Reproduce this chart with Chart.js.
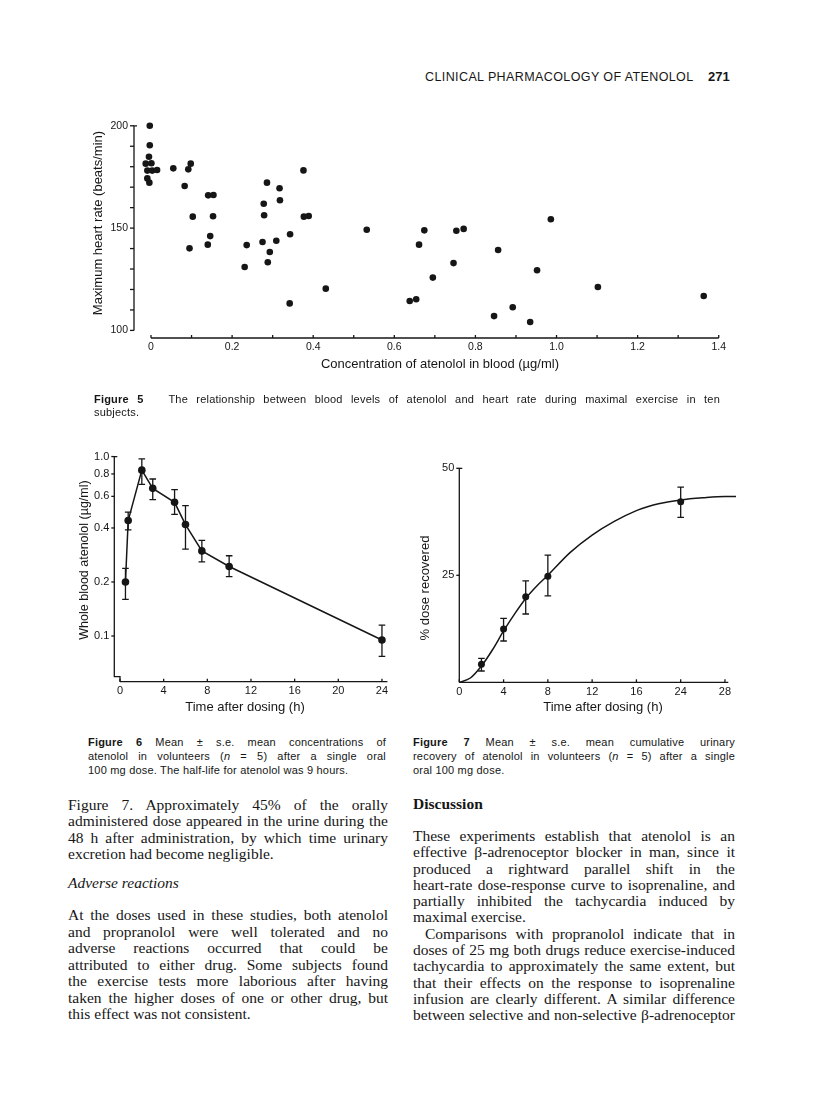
<!DOCTYPE html>
<html>
<head>
<meta charset="utf-8">
<script src="https://cdn.jsdelivr.net/npm/chart.js@4.4.1/dist/chart.umd.min.js"></script>
<style>
  body { margin: 0; background: #fff; }
  #page { position: relative; width: 816px; height: 1111px; overflow: hidden; color: #161616; }
  canvas { position: absolute; }
  .t { position: absolute; white-space: nowrap; text-align: center; height: 16px; line-height: 16px; }
  .r { transform: rotate(-90deg); }
  .sans { font-family: "Liberation Sans", Arial, sans-serif; }
  .serif { font-family: "Liberation Serif", "Times New Roman", serif; }
  .blk { position: absolute; }
  .cap { font-size: 11px; letter-spacing: 0.2px; }
  .body { font-size: 15.5px; }
  .j { text-align: justify; text-align-last: justify; }
  .body .j { word-spacing: -1.5px; }
  .n { white-space: nowrap; }
</style>
</head>
<body>
<div id="page">

  <div class="blk sans" style="left:425px; top:70px; font-size:12.5px; line-height:14px; letter-spacing:0.4px;">CLINICAL PHARMACOLOGY OF ATENOLOL</div>
  <div class="blk sans" style="left:708px; top:70px; font-size:13px; line-height:14px; font-weight:bold;">271</div>

  <canvas id="fig5" width="720" height="262" style="left:60px; top:100px;"></canvas>
  <canvas id="fig6" width="340" height="262" style="left:60px; top:440px;"></canvas>
  <canvas id="fig7" width="360" height="262" style="left:400px; top:440px;"></canvas>

  <!-- axis titles -->
  <div class="t sans" style="left:240px; top:356px; width:400px; font-size:13px;">Concentration of atenolol in blood (µg/ml)</div>
  <div class="t sans r" style="left:-22px; top:215px; width:240px; font-size:13px;">Maximum heart rate (beats/min)</div>
  <div class="t sans r" style="left:-36px; top:552px; width:240px; font-size:12.5px;">Whole blood atenolol (µg/ml)</div>
  <div class="t sans" style="left:145px; top:699px; width:200px; font-size:13px;">Time after dosing (h)</div>
  <div class="t sans r" style="left:325px; top:580px; width:200px; font-size:13px;">% dose recovered</div>
  <div class="t sans" style="left:503px; top:699px; width:200px; font-size:13px;">Time after dosing (h)</div>

  <!-- captions -->
  <div class="blk sans cap" style="left:94px; top:393px; width:626px; line-height:13px;">
    <div class="j"><b>Figure 5</b>&nbsp;&nbsp; The relationship between blood levels of atenolol and heart rate during maximal exercise in ten</div>
    <div class="n">subjects.</div>
  </div>
  <div class="blk sans cap" style="left:88px; top:735px; width:298px; line-height:14px;">
    <div class="j"><b>Figure 6</b> Mean ± s.e. mean concentrations of</div>
    <div class="j">atenolol in volunteers (<i>n</i> = 5) after a single oral</div>
    <div class="n">100 mg dose. The half-life for atenolol was 9 hours.</div>
  </div>
  <div class="blk sans cap" style="left:413px; top:735px; width:322px; line-height:14px;">
    <div class="j"><b>Figure 7</b> Mean ± s.e. mean cumulative urinary</div>
    <div class="j">recovery of atenolol in volunteers (<i>n</i> = 5) after a single</div>
    <div class="n">oral 100 mg dose.</div>
  </div>

  <!-- body text, left column -->
  <div class="blk serif body" style="left:68px; top:797px; width:320px; line-height:16.4px;">
    <div class="j">Figure 7. Approximately 45% of the orally</div>
    <div class="j">administered dose appeared in the urine during the</div>
    <div class="j">48 h after administration, by which time urinary</div>
    <div class="n">excretion had become negligible.</div>
  </div>
  <div class="blk serif body" style="left:68px; top:875px; line-height:16.4px;"><i>Adverse reactions</i></div>
  <div class="blk serif body" style="left:68px; top:907px; width:320px; line-height:16.5px;">
    <div class="j">At the doses used in these studies, both atenolol</div>
    <div class="j">and propranolol were well tolerated and no</div>
    <div class="j">adverse reactions occurred that could be</div>
    <div class="j">attributed to either drug. Some subjects found</div>
    <div class="j">the exercise tests more laborious after having</div>
    <div class="j">taken the higher doses of one or other drug, but</div>
    <div class="n">this effect was not consistent.</div>
  </div>

  <!-- body text, right column -->
  <div class="blk serif body" style="left:413px; top:796px; line-height:16.4px;"><b>Discussion</b></div>
  <div class="blk serif body" style="left:413px; top:828px; width:322px; line-height:16.3px;">
    <div class="j">These experiments establish that atenolol is an</div>
    <div class="j">effective β-adrenoceptor blocker in man, since it</div>
    <div class="j">produced a rightward parallel shift in the</div>
    <div class="j">heart-rate dose-response curve to isoprenaline, and</div>
    <div class="j">partially inhibited the tachycardia induced by</div>
    <div class="n">maximal exercise.</div>
    <div class="j" style="text-indent:12px;">Comparisons with propranolol indicate that in</div>
    <div class="j">doses of 25 mg both drugs reduce exercise-induced</div>
    <div class="j">tachycardia to approximately the same extent, but</div>
    <div class="j">that their effects on the response to isoprenaline</div>
    <div class="j">infusion are clearly different. A similar difference</div>
    <div class="j">between selective and non-selective β-adrenoceptor</div>
  </div>
</div>

<script>
// ---- Figure 5: blood atenolol (ug/ml) vs maximum heart rate (beats/min)
var fig5Conc = [-0.003, -0.003, -0.005, -0.013, 0.001, -0.009, 0.003, 0.015, -0.009, -0.004,
  0.055, 0.098, 0.092, 0.083, 0.141, 0.154, 0.103, 0.153, 0.146, 0.140,
  0.095, 0.236, 0.231, 0.286, 0.278, 0.279, 0.317, 0.318, 0.275, 0.309,
  0.293, 0.288, 0.343, 0.342, 0.376, 0.377, 0.389, 0.431, 0.532, 0.638,
  0.654, 0.674, 0.661, 0.695, 0.753, 0.771, 0.746, 0.856, 0.846, 0.892,
  0.935, 0.952, 0.986, 1.102, 1.363];
var fig5Rate = [200, 190.5, 184.9, 181.5, 181.7, 178.1, 178.1, 178.4, 174.3, 172.2,
  179.2, 181.5, 178.7, 170.6, 166.0, 166.2, 155.6, 155.8, 146.1, 141.9,
  140.1, 141.7, 131.0, 172.2, 161.9, 156.3, 169.5, 163.6, 143.2, 143.8,
  138.3, 133.3, 147.0, 113.2, 178.2, 155.6, 155.9, 120.4, 149.2, 114.4,
  115.2, 148.9, 141.9, 125.8, 148.7, 149.6, 132.9, 139.3, 107.0, 111.3,
  104.1, 129.4, 154.3, 121.2, 116.8];
var fig5XTicks = [0, 0.1, 0.2, 0.3, 0.4, 0.5, 0.6, 0.7, 0.8, 0.9, 1.0, 1.1, 1.2, 1.3, 1.4];
var fig5XLabels = ['0', '', '0.2', '', '0.4', '', '0.6', '', '0.8', '', '1.0', '', '1.2', '', '1.4'];
var fig5YTicks = [100, 110, 120, 130, 140, 150, 160, 170, 180, 190, 200];
var fig5YLabels = ['100', '', '', '', '', '150', '', '', '', '', '200'];

// ---- Figure 6: whole blood atenolol (ug/ml), mean and +/- s.e.
var fig6Time  = [0.5, 0.75, 2, 3, 5, 6, 7.5, 10, 24];
var fig6Mean  = [0.200, 0.440, 0.840, 0.665, 0.556, 0.418, 0.298, 0.244, 0.095];
var fig6Upper = [0.238, 0.490, 0.970, 0.750, 0.654, 0.533, 0.341, 0.280, 0.115];
var fig6Lower = [0.160, 0.390, 0.700, 0.575, 0.476, 0.305, 0.259, 0.214, 0.077];
var fig6XTicks = [0, 4, 8, 12, 16, 20, 24];
var fig6YTicks = [0.1, 0.2, 0.4, 0.6, 0.8, 1.0];
var fig6YLabels = ['0.1', '0.2', '0.4', '0.6', '0.8', '1.0'];

// ---- Figure 7: cumulative urinary recovery (% dose)
var fig7Time  = [2, 4, 6, 8, 24];
var fig7Mean  = [4.2, 12.45, 20.0, 24.8, 42.2];
var fig7Upper = [5.6, 14.95, 23.7, 29.7, 45.6];
var fig7Lower = [2.64, 9.65, 15.96, 20.2, 38.55];
var fig7CurveTime = [0, 1, 2, 3, 4, 5, 6, 7, 8, 10, 12, 14, 16, 18, 20, 24, 26, 28, 29];
var fig7CurveDose = [0, 1.0, 3.8, 7.6, 12.0, 16.0, 19.6, 22.5, 25.0, 30.3, 34.4, 37.6, 40.1, 41.0, 41.7, 42.6, 43.1, 43.4, 43.4];
var fig7XTicks = [0, 4, 8, 12, 16, 24, 28];
var fig7YTicks = [25, 50];

var INK = '#161616';
var FONT = '"Liberation Sans", Arial, sans-serif';

// the time axis of fig 7 is squeezed between 16 and 24 h (same gap as 4 h)
function fig7Axis(h) {
  if (h <= 16) return h;
  if (h <= 24) return 16 + (h - 16) / 2;
  return h - 4;
}

function pts(xs, ys, fx) {
  return xs.map(function (x, i) { return { x: fx ? fx(x) : x, y: ys[i] }; });
}

// axis lines, tick marks and error bars drawn the way the printed figure has them
var paperAxes = {
  id: 'paperAxes',
  afterDatasetsDraw: function (chart, args, o) {
    var ctx = chart.ctx, a = chart.chartArea;
    var xs = chart.scales.x, ys = chart.scales.y;
    ctx.save();
    ctx.strokeStyle = INK;
    ctx.lineWidth = 1.3;

    chart.data.datasets.forEach(function (ds) {
      if (!ds.errHi) return;
      ds.data.forEach(function (p, j) {
        var x = xs.getPixelForValue(p.x);
        var yh = ys.getPixelForValue(ds.errHi[j]);
        var yl = ys.getPixelForValue(ds.errLo[j]);
        ctx.beginPath();
        ctx.moveTo(x, yh); ctx.lineTo(x, yl);
        ctx.moveTo(x - o.cap, yh); ctx.lineTo(x + o.cap, yh);
        ctx.moveTo(x - o.cap, yl); ctx.lineTo(x + o.cap, yl);
        ctx.stroke();
      });
    });

    var yTop = ys.getPixelForValue(o.yTop);
    var x0 = xs.getPixelForValue(o.xStart);
    var x1 = xs.getPixelForValue(o.xEnd);

    ctx.beginPath();
    ctx.moveTo(a.left + o.capTop, yTop);
    ctx.lineTo(a.left, yTop);
    if (o.kink) {
      ctx.lineTo(a.left, a.bottom - o.kink);
      ctx.lineTo(x0, a.bottom - o.kink);
      ctx.lineTo(x0, a.bottom);
    } else {
      ctx.lineTo(a.left, ys.getPixelForValue(o.yBottom));
    }
    ctx.stroke();

    ctx.beginPath();
    ctx.moveTo(x0, a.bottom);
    ctx.lineTo(x1, a.bottom);
    ctx.stroke();

    ys.ticks.forEach(function (t) {
      var y = ys.getPixelForValue(t.value);
      ctx.beginPath(); ctx.moveTo(a.left - o.yTick, y); ctx.lineTo(a.left, y); ctx.stroke();
    });
    xs.ticks.forEach(function (t) {
      var x = xs.getPixelForValue(t.value);
      ctx.beginPath(); ctx.moveTo(x, a.bottom); ctx.lineTo(x, a.bottom - o.xTick); ctx.stroke();
    });
    ctx.restore();
  }
};

function axis(min, max, ticks, labels, size, fit, pad, type) {
  return {
    type: type || 'linear',
    min: min, max: max,
    bounds: 'data',
    grid: { display: false, drawTicks: false },
    border: { display: false },
    afterBuildTicks: function (s) { s.ticks = ticks.map(function (v) { return { value: v }; }); },
    afterFit: function (s) { if (s.isHorizontal()) s.height = fit; else s.width = fit; },
    ticks: {
      autoSkip: false, maxRotation: 0, padding: pad, color: INK,
      font: { family: FONT, size: size },
      callback: function (v, i) { return labels ? labels[i] : String(v); }
    }
  };
}

function baseOptions(padding, xAxis, yAxis, paper) {
  return {
    responsive: false,
    animation: false,
    events: [],
    layout: { padding: padding },
    plugins: { legend: { display: false }, tooltip: { enabled: false }, paperAxes: paper },
    scales: { x: xAxis, y: yAxis }
  };
}

new Chart(document.getElementById('fig5'), {
  type: 'scatter',
  data: {
    datasets: [{
      data: pts(fig5Conc, fig5Rate),
      pointRadius: 3.3, pointBackgroundColor: INK, pointBorderWidth: 0, clip: false
    }]
  },
  options: baseOptions({ left: 34, top: 20, right: 56, bottom: 0 },
    axis(-0.0419, 1.413, fig5XTicks, fig5XLabels, 10.5, 24, 3),
    axis(96.29, 202.83, fig5YTicks, fig5YLabels, 10.5, 40, 6),
    { yTop: 200, yBottom: 100, xStart: 0, xEnd: 1.4, capTop: 3, yTick: 4, xTick: 3, cap: 3 }),
  plugins: [paperAxes]
});

new Chart(document.getElementById('fig6'), {
  type: 'scatter',
  data: {
    datasets: [{
      data: pts(fig6Time, fig6Mean),
      errHi: fig6Upper, errLo: fig6Lower,
      showLine: true, borderColor: INK, borderWidth: 1.5, tension: 0,
      pointRadius: 3.8, pointBackgroundColor: INK, pointBorderWidth: 0, clip: false
    }]
  },
  options: baseOptions({ left: 14.3, top: 10, right: 8, bottom: 0 },
    axis(-0.522, 24.92, fig6XTicks, null, 11, 20.3, 3),
    axis(0.05563, 1.0658, fig6YTicks, fig6YLabels, 11, 40, 5, 'logarithmic'),
    { yTop: 1.0, xStart: 0, xEnd: 24.5, kink: 5, capTop: 3, yTick: 3, xTick: 3, cap: 3.3 }),
  plugins: [paperAxes]
});

new Chart(document.getElementById('fig7'), {
  type: 'scatter',
  data: {
    datasets: [{
      data: pts(fig7CurveTime, fig7CurveDose, fig7Axis),
      showLine: true, borderColor: INK, borderWidth: 1.5,
      cubicInterpolationMode: 'monotone', pointRadius: 0, clip: false
    }, {
      data: pts(fig7Time, fig7Mean, fig7Axis),
      errHi: fig7Upper, errLo: fig7Lower,
      pointRadius: 3.5, pointBackgroundColor: INK, pointBorderWidth: 0, clip: false
    }]
  },
  options: baseOptions({ left: 19.3, top: 20, right: 15, bottom: 0 },
    axis(0, 25.81, fig7XTicks.map(fig7Axis), fig7XTicks.map(String), 11, 19.7, 3),
    axis(0, 51.94, fig7YTicks, null, 11, 40, 5),
    { yTop: 50, yBottom: 0, xStart: 0, xEnd: fig7Axis(28.3), capTop: 3, yTick: 3, xTick: 3, cap: 3.3 }),
  plugins: [paperAxes]
});
</script>
</body>
</html>
